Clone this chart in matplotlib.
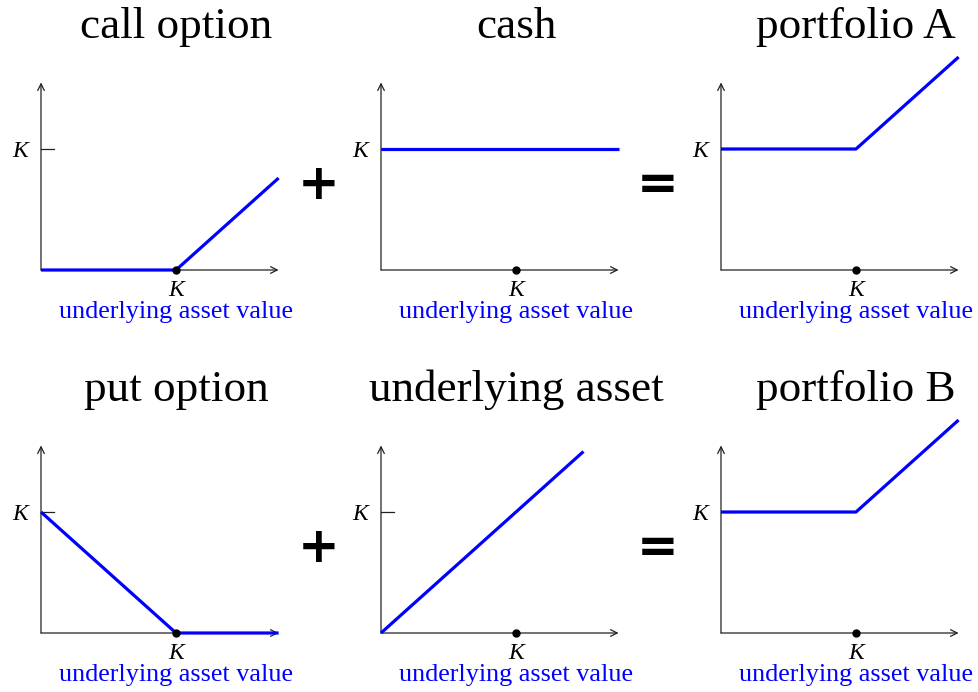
import matplotlib
matplotlib.use("Agg")
import matplotlib.pyplot as plt

# strike and axis extents (in units of K)
K = 1.0
X_END = 1.76
Y_END = 1.55

# payoff curves, one pair of lists per panel
call_x = [0, 1.0, 1.76]
call_y = [0, 0, 0.76]
cash_x = [0, 1.76]
cash_y = [1.0, 1.0]
port_a_x = [0, 1.0, 1.76]
port_a_y = [1.0, 1.0, 1.76]
put_x = [0, 1.0, 1.76]
put_y = [1.0, 0, 0]
asset_x = [0, 1.5]
asset_y = [0, 1.5]
port_b_x = [0, 1.0, 1.76]
port_b_y = [1.0, 1.0, 1.76]

titles = [["call option", "cash", "portfolio A"],
          ["put option", "underlying asset", "portfolio B"]]
curves = [[(call_x, call_y), (cash_x, cash_y), (port_a_x, port_a_y)],
          [(put_x, put_y), (asset_x, asset_y), (port_b_x, port_b_y)]]
operators = ["+", "="]

W, H = 979, 692
PX_X, PX_Y = 135, 121          # pixels per unit K
ORIG_X = [41, 381, 721]
ORIG_Y = [270, 633]
SPAN = 1.8

SERIF = "Liberation Serif"
BLUE = "#0000ff"
AXC = "#222222"

fig = plt.figure(figsize=(W / 100, H / 100), dpi=100)


def draw_panel(ax, title, xs, ys):
    ax.set_xlim(0, SPAN)
    ax.set_ylim(0, SPAN)
    ax.axis("off")
    arrow = dict(arrowstyle="->", lw=0.9, color=AXC, shrinkA=0, shrinkB=0,
                 mutation_scale=12)
    ax.annotate("", xy=(X_END, 0), xytext=(0, 0), arrowprops=arrow,
                annotation_clip=False)
    ax.annotate("", xy=(0, Y_END), xytext=(0, 0), arrowprops=arrow,
                annotation_clip=False)
    # K tick on y axis
    ax.plot([0, 0.096], [K, K], color=AXC, lw=0.9, clip_on=False)
    ax.text(-0.096, K - 8 / PX_Y, "K", family=SERIF, style="italic",
            fontsize=17, ha="right", va="baseline")
    # payoff line
    ax.plot(xs, ys, color=BLUE, lw=2.3, solid_capstyle="butt",
            clip_on=False, zorder=3)
    # K dot on x axis
    ax.plot([K], [0], "o", color="black", ms=5, clip_on=False, zorder=4)
    ax.text(K, -26 / PX_Y, "K", family=SERIF, style="italic",
            fontsize=17, ha="center", va="baseline")
    ax.text(K, -48 / PX_Y, "underlying asset value", family=SERIF,
            fontsize=18.8, color=BLUE, ha="center", va="baseline")
    ax.text(K, 232 / PX_Y, title, family=SERIF, fontsize=32.5,
            ha="center", va="baseline")


for r in range(2):
    for c in range(3):
        ox, oy = ORIG_X[c], ORIG_Y[r]
        ax = fig.add_axes([ox / W, (H - oy) / H,
                           SPAN * PX_X / W, SPAN * PX_Y / H])
        xs, ys = curves[r][c]
        draw_panel(ax, titles[r][c], xs, ys)
    # + and = between the panels
    for i, op in enumerate(operators):
        px = [319, 658][i]
        fig.text(px / W, (H - (ORIG_Y[r] - 85)) / H, op,
                 family="DejaVu Sans", fontsize=36, fontweight="bold",
                 ha="center", va="center")

fig.savefig("out.png", dpi=100)
